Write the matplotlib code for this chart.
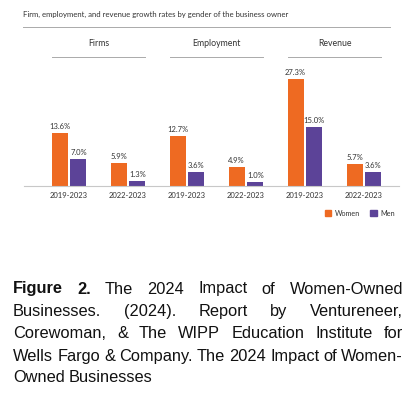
import matplotlib
matplotlib.use("Agg")
import matplotlib.pyplot as plt
import matplotlib.transforms as mtransforms
from matplotlib.patches import Patch

# data
groups = ["Firms", "Employment", "Revenue"]
periods = ["2019-2023", "2022-2023", "2019-2023", "2022-2023", "2019-2023", "2022-2023"]
women = [13.6, 5.9, 12.7, 4.9, 27.3, 5.7]
men = [7.0, 1.3, 3.6, 1.0, 15.0, 3.6]
title = "Firm, employment, and revenue growth rates by gender of the business owner"
caption_lines = [
    "The 2024 Impact of Women-Owned",
    "Businesses. (2024). Report by Ventureneer,",
    "Corewoman, & The WIPP Education Institute for",
    "Wells Fargo & Company. The 2024 Impact of Women-",
    "Owned Businesses",
]

W, H = 419, 398
ORANGE = "#EE6A22"
PURPLE = "#5C4398"
TXT = "#333333"

plt.rcParams["font.family"] = ["Lato", "DejaVu Sans"]
fig = plt.figure(figsize=(W / 100, H / 100), dpi=100)
fig.patch.set_facecolor("white")


def fx(px):
    return px / W


def fy(py):
    return 1 - py / H


ax = fig.add_axes([fx(24), fy(186), fx(399) - fx(24), fy(70) - fy(186)])
x = list(range(len(periods)))
bw, off = 0.27, 0.16
xw = [i - off for i in x]
xm = [i + off for i in x]
ax.bar(xw, women, width=bw, color=ORANGE, label="Women")
ax.bar(xm, men, width=bw, color=PURPLE, label="Men")
ax.set_xlim(-0.763, 5.593)
ax.set_ylim(0, 29.6)
for s in ["top", "right", "left"]:
    ax.spines[s].set_visible(False)
ax.spines["bottom"].set_color("#c8c8c8")
ax.spines["bottom"].set_linewidth(0.8)
ax.set_yticks([])
ax.set_xticks(x)
ax.set_xticklabels(periods, fontsize=5.5, color=TXT)
ax.tick_params(axis="x", length=0, pad=4.5)

for xs, vals in [(xw, women), (xm, men)]:
    for xi, v in zip(xs, vals):
        ax.annotate(f"{v:.1f}%", (xi, v), xytext=(0, 2), textcoords="offset points",
                    ha="center", va="bottom", fontsize=5.5, color=TXT)

# group headers with underlines
blend = mtransforms.blended_transform_factory(ax.transData, fig.transFigure)
for gi, g in enumerate(groups):
    c = 2 * gi + 0.5
    fig.text(c, fy(44), g, transform=blend, ha="center", va="center", fontsize=6.3, color=TXT)
    ax.plot([2 * gi - off - bw / 2, 2 * gi + 1 + off + bw / 2], [fy(57)] * 2, transform=blend,
            color="#aaaaaa", lw=0.7, clip_on=False)

# title and rule
fig.text(fx(23), fy(14), title, ha="left", va="center", fontsize=5.6, color=TXT)
fig.add_artist(plt.Line2D([fx(23), fx(390)], [fy(27)] * 2, color="#aaaaaa", lw=0.7))

fig.legend(handles=[Patch(color=ORANGE, label="Women"), Patch(color=PURPLE, label="Men")],
           loc="center", bbox_to_anchor=(fx(360), fy(213)), ncol=2, frameon=False,
           fontsize=5.2, handlelength=0.9, handleheight=0.9, columnspacing=1.4,
           handletextpad=0.5, labelcolor=TXT)

# justified caption
renderer = fig.canvas.get_renderer()
left, right = 13, 403
ys = [289, 311.5, 334, 356.5, 378]
cfont = dict(family="Liberation Sans", fontsize=11.8, color="#111111", va="center", ha="left")
for li, line in enumerate(caption_lines):
    words = line.split(" ")
    items = []
    if li == 0:
        items = [("Figure", "bold"), ("2.", "bold")]
    items += [(w, "normal") for w in words]
    texts = [fig.text(0, fy(ys[li]), w, fontweight=wt, **cfont) for w, wt in items]
    widths = [t.get_window_extent(renderer).width for t in texts]
    if li < len(caption_lines) - 1:
        gap = (right - left - sum(widths)) / (len(texts) - 1)
    else:
        gap = texts[0].get_window_extent(renderer).height * 0.25
    pos = left
    for t, w in zip(texts, widths):
        t.set_x(fx(pos))
        pos += w + gap

fig.savefig("out.png", dpi=100, facecolor="white")
